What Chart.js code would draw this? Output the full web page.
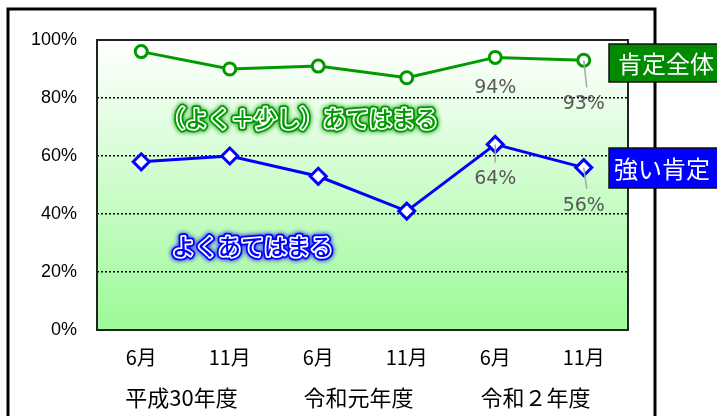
<!DOCTYPE html>
<html>
<head>
<meta charset="utf-8">
<script src="https://cdn.jsdelivr.net/npm/chart.js@4"></script>
<style>
  html, body { margin: 0; padding: 0; background: #fff; }
  #wrap { width: 717px; height: 416px; position: relative; }
</style>
</head>
<body>
<div id="wrap"><canvas id="chart" width="717" height="416"></canvas></div>
<script>
const months = ['6月', '11月', '6月', '11月', '6月', '11月'];
const fiscalYears = ['平成30年度', '令和元年度', '令和２年度'];
const positiveAll = [96, 90, 91, 87, 94, 93];
const strongPositive = [58, 60, 53, 41, 64, 56];
const labelledPoints = [4, 5]; // only the last two points carry value labels

const GREEN = '#009a00';
const BLUE = '#0000ff';
const JP = '"Noto Sans CJK JP", "Noto Sans", sans-serif';

function glowText(ctx, text, x, y, color) {
    ctx.save();
    ctx.font = '500 23px ' + JP;
    ctx.textAlign = 'left';
    ctx.textBaseline = 'middle';
    ctx.lineJoin = 'round';
    ctx.shadowColor = color;
    ctx.shadowBlur = 5;
    ctx.strokeStyle = color;
    ctx.lineWidth = 7;
    ctx.strokeText(text, x, y);
    ctx.shadowBlur = 0;
    ctx.strokeStyle = '#ffffff';
    ctx.lineWidth = 3.5;
    ctx.strokeText(text, x, y);
    ctx.fillStyle = color;
    ctx.fillText(text, x, y);
    ctx.restore();
}

const decor = {
    id: 'decor',
    beforeDraw(chart) {
        const ctx = chart.ctx;
        const a = chart.chartArea;
        ctx.save();
        ctx.fillStyle = '#ffffff';
        ctx.fillRect(0, 0, chart.width, chart.height);
        const g = ctx.createLinearGradient(0, a.top, 0, a.bottom);
        g.addColorStop(0, '#ffffff');
        g.addColorStop(1, '#9cfa98');
        ctx.fillStyle = g;
        ctx.fillRect(a.left, a.top, a.right - a.left, a.bottom - a.top);
        ctx.restore();
    },
    beforeDatasetsDraw(chart) {
        glowText(chart.ctx, '（よく＋少し）あてはまる', 162, 118, GREEN);
        glowText(chart.ctx, 'よくあてはまる', 172, 246, BLUE);
    },
    afterDraw(chart) {
        const ctx = chart.ctx;
        const a = chart.chartArea;
        const x = chart.scales.x;
        const y = chart.scales.y;
        ctx.save();
        // plot border
        ctx.strokeStyle = '#222';
        ctx.lineWidth = 2;
        ctx.strokeRect(a.left, a.top, a.right - a.left, a.bottom - a.top);
        // outer frame
        ctx.strokeStyle = '#000';
        ctx.lineWidth = 3;
        ctx.beginPath();
        ctx.moveTo(8, 420);
        ctx.lineTo(8, 9);
        ctx.lineTo(655, 9);
        ctx.lineTo(655, 420);
        ctx.stroke();

        // fiscal year labels under each pair of months
        ctx.fillStyle = '#000';
        ctx.font = '22px ' + JP;
        ctx.textAlign = 'center';
        ctx.textBaseline = 'middle';
        fiscalYears.forEach((fy, i) => {
            const cx = (x.getPixelForValue(i * 2) + x.getPixelForValue(i * 2 + 1)) / 2;
            ctx.fillText(fy, cx - 4, 398);
        });

        // value labels with leader lines
        ctx.font = '19px "DejaVu Sans", sans-serif';
        ctx.fillStyle = '#595959';
        const offsets = [
            { set: positiveAll, dy: [31, 44], lead: [false, true] },
            { set: strongPositive, dy: [35, 38], lead: [true, true] }
        ];
        offsets.forEach(o => {
            labelledPoints.forEach((idx, k) => {
                const px = x.getPixelForValue(idx);
                const py = y.getPixelForValue(o.set[idx]);
                if (o.lead[k]) {
                    ctx.strokeStyle = '#a6a6a6';
                    ctx.lineWidth = 1.5;
                    ctx.beginPath();
                    ctx.moveTo(px, py);
                    ctx.lineTo(px + (k === 1 ? 3 : 0), py + o.dy[k] - 17);
                    ctx.stroke();
                }
                ctx.fillText(o.set[idx] + '%', px, py + o.dy[k]);
            });
        });

        // legend boxes
        const boxes = [
            { text: '肯定全体', color: '#008a00', top: 44, bottom: 82, tx: 618 },
            { text: '強い肯定', color: BLUE, top: 148, bottom: 188, tx: 614 }
        ];
        boxes.forEach(b => {
            ctx.fillStyle = b.color;
            ctx.fillRect(609, b.top, 120, b.bottom - b.top);
            ctx.strokeStyle = '#111';
            ctx.lineWidth = 1.5;
            ctx.strokeRect(609, b.top, 120, b.bottom - b.top);
            ctx.fillStyle = '#fff';
            ctx.font = '24px ' + JP;
            ctx.textAlign = 'left';
            ctx.fillText(b.text, b.tx, (b.top + b.bottom) / 2 + 1);
        });
        ctx.restore();
    }
};

new Chart(document.getElementById('chart').getContext('2d'), {
    type: 'line',
    data: {
        labels: months,
        datasets: [{
            label: '肯定全体',
            data: positiveAll,
            borderColor: GREEN,
            borderWidth: 3,
            pointStyle: 'circle',
            pointRadius: 6,
            pointBorderWidth: 3,
            pointBackgroundColor: '#fff',
            pointBorderColor: GREEN,
            tension: 0
        }, {
            label: '強い肯定',
            data: strongPositive,
            borderColor: BLUE,
            borderWidth: 3,
            pointStyle: 'rectRot',
            pointRadius: 8,
            pointBorderWidth: 3,
            pointBackgroundColor: '#fff',
            pointBorderColor: BLUE,
            tension: 0
        }]
    },
    options: {
        responsive: false,
        animation: false,
        layout: { padding: { top: 40, right: 89, left: 0, bottom: 0 } },
        plugins: {
            legend: { display: false },
            tooltip: { enabled: false }
        },
        scales: {
            x: {
                offset: true,
                grid: { display: false, drawTicks: false },
                border: { display: false },
                ticks: {
                    color: '#000',
                    font: { size: 20, family: JP },
                    padding: 15,
                    maxRotation: 0
                },
                afterFit(scale) { scale.height = 86; }
            },
            y: {
                min: 0,
                max: 100,
                ticks: {
                    stepSize: 20,
                    color: '#000',
                    font: { size: 18, family: '"Liberation Sans Narrow", "Liberation Sans", sans-serif' },
                    padding: 20,
                    callback: v => v + '%'
                },
                grid: {
                    drawTicks: false,
                    color: ctx => (ctx.tick.value === 0 || ctx.tick.value === 100) ? 'rgba(0,0,0,0)' : '#000',
                    lineWidth: 1.5
                },
                border: { display: false, dash: [2, 2] },
                afterFit(scale) { scale.width = 97; }
            }
        }
    },
    plugins: [decor]
});
</script>
</body>
</html>
